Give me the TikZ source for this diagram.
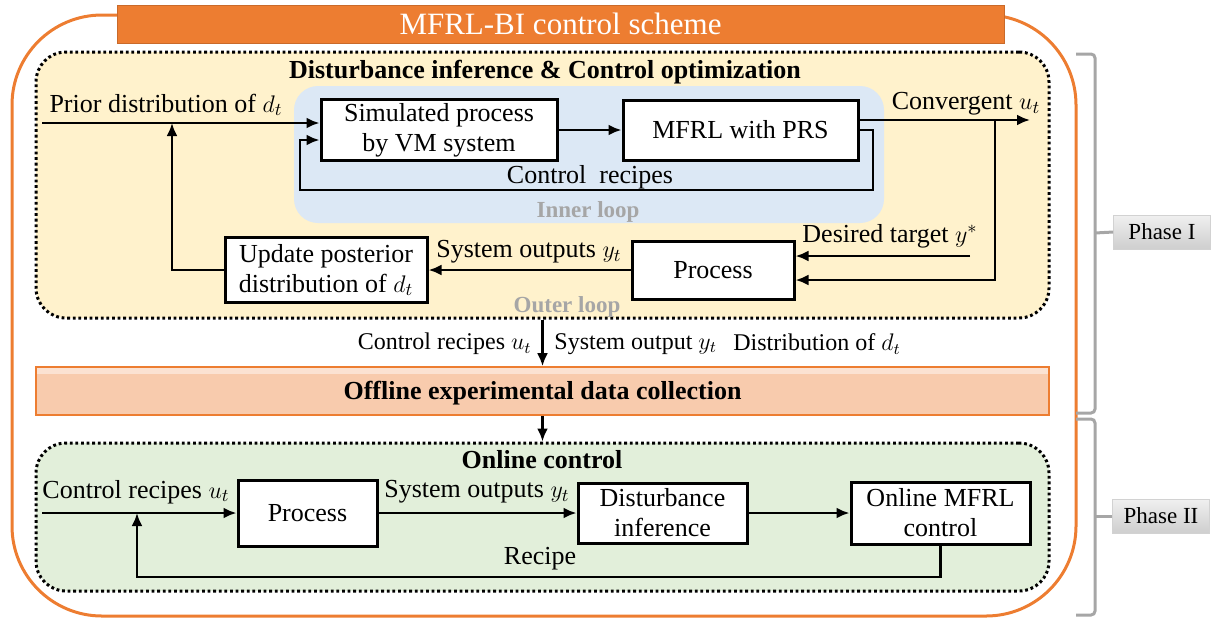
\documentclass[tikz,border=0pt]{standalone}
\usepackage{fontspec}
\setmainfont{Liberation Serif}
\usetikzlibrary{positioning,arrows.meta}

\definecolor{schemeorange}{HTML}{ED7D31}
\definecolor{yellowbg}{HTML}{FFF2CC}
\definecolor{bluebg}{HTML}{DCE8F5}
\definecolor{greenbg}{HTML}{E2EFDA}
\definecolor{offlinefill}{HTML}{F8CBAD}
\definecolor{offlinetop}{HTML}{FBE2D2}
\definecolor{loopgray}{HTML}{A6A6A6}

\begin{document}
\begin{tikzpicture}[
    x=0.5pt, y=-0.5pt,
    block/.style={draw, line width=1.5pt, fill=white, align=center, inner sep=2pt,
                  font=\fontsize{13}{15}\selectfont}, % Process boxes
    arr/.style={-{Latex[length=6.5pt,width=5.5pt]}, line width=1.4pt}, % Signal arrows
    region/.style={rounded corners=15pt, dash pattern=on 1.4pt off 1.4pt,
                   line width=1.5pt, inner sep=0pt}, % Dotted stage regions
    lbl/.style={font=\fontsize{13}{15}\selectfont, inner sep=1pt},
    midlbl/.style={font=\fontsize{12}{14}\selectfont, inner sep=1pt},
    head/.style={font=\bfseries\fontsize{13}{15}\selectfont},
    looptxt/.style={text=loopgray, font=\bfseries\fontsize{11.5}{13}\selectfont},
    phase/.style={draw=gray!35, top color=gray!12, bottom color=gray!38,
                  font=\fontsize{11.5}{13}\selectfont, minimum width=48.5pt, minimum height=17pt},
    bracket/.style={draw=loopgray, line width=1.5pt, rounded corners=2pt}
]
\useasboundingbox (0,0) rectangle (1219,618);

% Outer frame and title
\draw[schemeorange, line width=1.5pt, rounded corners=45pt] (12,15) rectangle (1076,616);
\node[fill=schemeorange, draw=schemeorange!85!black, line width=0.4pt, minimum width=443.5pt,
      minimum height=19pt, text=white, font=\fontsize{15.5}{17}\selectfont] (title) at (560.5,24)
      {MFRL-BI control scheme};

% Phase I: disturbance inference & control optimization
\node[region, draw, fill=yellowbg, minimum width=506.5pt, minimum height=133pt] (dibox) at (542.5,185) {};
\node[head] (dihead) at (545,72) {Disturbance inference \& Control optimization};
\node[fill=bluebg, rounded corners=12pt, minimum width=295pt, minimum height=68.5pt] (inner) at (589,154.5) {};

\node[block, minimum width=118pt, minimum height=30pt] (sim) at (439,130) {Simulated process\\by VM system};
\node[block, minimum width=117.5pt, minimum height=30pt] (mfrl) at (740.5,130) {MFRL with PRS};
\node[block, minimum width=81pt, minimum height=29pt] (proc) at (713,270) {Process};
\node[block, minimum width=101pt, minimum height=32.5pt] (upd) at (326,270) {Update posterior\\distribution of $d_t$};

\coordinate (priorin) at (42,123);
\coordinate (join) at (172,123);
\coordinate (loopR) at (873,190);
\coordinate (loopL) at (300,190);
\coordinate (conv) at (1030,120);
\coordinate (branch) at (995,120);
\coordinate (target) at (970,256);

\draw[arr] (priorin) -- ([yshift=3.5pt]sim.west);
\draw[arr] (sim) -- (mfrl);
\draw[arr] (mfrl.east) -| (loopR) -- (loopL) |- ([yshift=-5pt]sim.west);
\draw[arr] ([yshift=5pt]mfrl.east) -- (conv);
\draw[arr] (branch) |- ([yshift=-5pt]proc.east);
\draw[arr] (target) -- ([yshift=7pt]proc.east);
\draw[arr] (proc) -- (upd);
\draw[arr] (upd.west) -| (join);

\node[lbl] (priorlbl) at (166,105) {Prior distribution of $d_t$};
\node[lbl] (convlbl) at (966,104) {Convergent $u_t$};
\node[lbl] (reclbl) at (590,177) {Control~ recipes};
\node[lbl] (targetlbl) at (890,236) {Desired target $y^{*}$};
\node[lbl] (outlbl) at (529,252) {System outputs $y_t$};
\node[looptxt] (innerlbl) at (588,212) {Inner loop};
\node[looptxt] (outerlbl) at (567,307) {Outer loop};

% Offline data collection
\node[fill=offlinefill, draw=schemeorange, line width=0.8pt, minimum width=506.5pt, minimum height=24pt,
      path picture={\fill[offlinetop] (path picture bounding box.north west)
      rectangle ([yshift=-3.5pt]path picture bounding box.north east);}] (offline) at (542.5,391) {};
\node[head] (offlbl) at (542.5,393) {Offline experimental data collection};
\draw[arr] (dibox.south) -- (offline.north);
\node[midlbl, anchor=east] (mu) at (534,344) {Control recipes $u_t$};
\node[midlbl, anchor=west] (my) at (552,344) {System output $y_t$};
\node[midlbl] (md) at (817,344) {Distribution of $d_t$};

% Phase II: online control
\node[region, draw, fill=greenbg, minimum width=506.5pt, minimum height=74pt] (olbox) at (542.5,517) {};
\draw[arr] (offline.south) -- (olbox.north);
\node[head] (olhead) at (542,460) {Online control};

\node[block, minimum width=69.5pt, minimum height=33pt] (proc2) at (307.5,513) {Process};
\node[block, minimum width=84.5pt, minimum height=30pt] (dist) at (662.5,513) {Disturbance\\inference};
\node[block, minimum width=89.5pt, minimum height=31pt] (online) at (940.5,513) {Online MFRL\\control};

\coordinate (ctlin) at (42,513);
\coordinate (fbR) at (940.5,577);
\coordinate (fbL) at (137,577);
\coordinate (fbjoin) at (137,513);

\draw[arr] (ctlin) -- (proc2);
\draw[arr] (proc2) -- (dist);
\draw[arr] (dist) -- (online);
\draw[arr] (online.south) -- (fbR) -- (fbL) -- (fbjoin);

\node[lbl] (ctllbl) at (136,492) {Control recipes $u_t$};
\node[lbl] (sylbl) at (477,492) {System outputs $y_t$};
\node[lbl] (recipelbl) at (540,559) {Recipe};

% Phase brackets
\node[phase] (ph1) at (1162,232) {Phase I};
\node[phase] (ph2) at (1161,516) {Phase II};
\draw[bracket] (1076,54) -| (1095,413) -- (1076,413);
\draw[bracket] (1095,233) -- (ph1.west);
\draw[bracket] (1076,419) -| (1095,615) -- (1076,615);
\draw[bracket] (1095,516) -- (ph2.west);

\end{tikzpicture}
\end{document}
